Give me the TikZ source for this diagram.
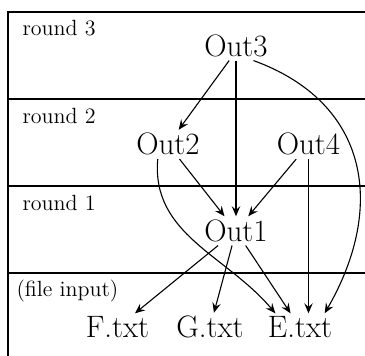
\documentclass[tikz,border=0pt]{standalone}
\usetikzlibrary{arrows.meta, positioning, calc}
\begin{document}
\begin{tikzpicture}[x=0.5pt, y=0.5pt, line width=0.55pt,
    stage/.style={font=\fontsize{15.5}{18}\selectfont, inner sep=1.5pt, anchor=base},
    roundlabel/.style={font=\fontsize{11}{13}\selectfont, inner sep=0pt, anchor=base west},
    dep/.style={-{Stealth[length=5pt, width=4.2pt, inset=1.8pt]}}]
  \useasboundingbox (0,0) rectangle (365,-356);
  % bands
  \draw (8,-356) |- (365,-12);
  \foreach \y in {99,186,273}
    \draw (8,-\y) -- (365,-\y);
  \node[roundlabel] (lblthree) at (22,-36) {round 3};
  \node[roundlabel] (lbltwo) at (22,-124) {round 2};
  \node[roundlabel] (lblone) at (22,-211) {round 1};
  \node[roundlabel] (lblfile) at (16,-297) {(file input)};
  % outputs
  \node[stage] (out3) at (236,-56.5) {Out3};
  \node[stage] (out2) at (168,-155) {Out2};
  \node[stage] (out4) at (308.5,-155) {Out4};
  \node[stage] (out1) at (236,-241.5) {Out1};
  \node[stage] (ftxt) at (117.5,-338) {F.txt};
  \node[stage] (gtxt) at (210,-338) {G.txt};
  \node[stage] (etxt) at (300,-338) {E.txt};
  % dependencies
  \draw[dep] (out3.-115) -- (out2);
  \draw[dep] (out3) -- (out1);
  \draw[dep] (out3.-40) to[out=-20, in=60, looseness=1.2] (etxt.30);
  \draw[dep] (out2) -- (out1);
  \draw[dep] (out2.-125) to[out=-95, in=130] (etxt.150);
  \draw[dep] (out4) -- (out1);
  \draw[dep] (out4) -- (out4 |- etxt.north);
  \draw[dep] (out1) -- (ftxt);
  \draw[dep] (out1) -- (gtxt);
  \draw[dep] (out1) -- (etxt);
\end{tikzpicture}
\end{document}
